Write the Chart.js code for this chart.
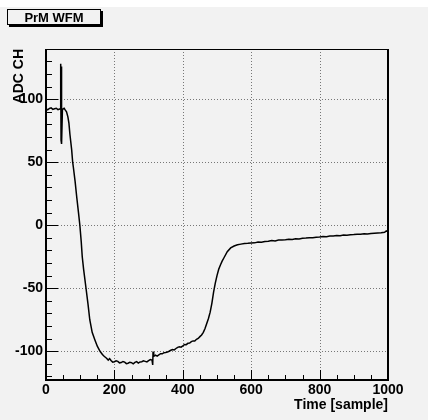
<!DOCTYPE html>
<html>
<head>
<meta charset="utf-8">
<title>PrM WFM</title>
<script src="https://cdn.jsdelivr.net/npm/chart.js@4.4.1/dist/chart.umd.min.js"></script>
<style>
  html, body { margin: 0; padding: 0; background: #ffffff; }
  #wrap { width: 428px; height: 420px; }
</style>
</head>
<body>
<div id="wrap"><canvas id="wfm" width="428" height="420"></canvas></div>
<script>
// waveform samples (sample index -> ADC counts)
const sampleIdx = [
  0, 5, 10, 15, 20, 25, 30, 35, 40, 42, 43, 44, 45, 46, 48, 50, 53, 56, 60, 64, 67, 70, 75, 78,
  80, 85, 90, 95, 99, 103, 106, 110, 117, 123, 128, 135, 143, 150, 158, 165, 170, 177, 182, 186, 190, 195,
  200, 205, 210, 215, 220, 225, 230, 235, 240, 245, 250, 255, 260, 265, 270, 275, 280, 285, 290, 295,
  300, 305, 310, 312, 313, 315, 320, 325, 330, 335, 340, 345, 350, 355, 360, 365,
  370, 375, 380, 385, 390, 395, 400, 405, 410, 415, 420, 425, 430, 435, 440, 445, 450, 455, 460, 465, 470, 475, 480, 485, 490, 495, 500, 505, 510,
  515, 520, 530, 540, 550, 560, 570, 580, 590, 600, 610, 620, 630, 640, 650, 660, 670, 680, 690, 700,
  710, 720, 730, 740, 750, 760, 770, 780, 790, 800, 810, 820, 830, 840, 850, 860, 870, 880, 890, 900,
  910, 920, 930, 940, 950, 960, 970, 980, 990, 995, 1000
];
const adcValues = [
  92.5, 91.6, 92.6, 93.1, 91.9, 92.4, 92.8, 91.7, 92.2, 92.5, 128, 67.5, 126, 64.5, 91.5, 92.4, 92.8, 91.5, 90, 86, 81, 72, 60, 50,
  46, 35, 22, 10, 0, -13, -25, -35, -50, -63, -75, -85, -91, -96, -100, -102.5, -104, -105.5, -107, -105.8, -107.3, -108.6,
  -108.3, -107.6, -108, -109.2, -109, -108.1, -108.6, -109.8, -109.5, -108.7, -109, -110, -108.8, -108.2, -109.4, -108.5, -108.3, -107.6, -108, -108.4,
  -107.4, -106.6, -107, -110.9, -100.3, -104, -103, -103.8, -102.8, -101.9, -102, -101.1, -101, -100.6, -100, -99.2,
  -98.6, -98.9, -97.8, -96.9, -96.5, -96.8, -95.8, -94.6, -94.8, -93.7, -93.5, -92.4, -91.8, -91.9, -90.5, -89.8, -88.4, -87.1, -85, -82, -78, -74, -69, -62, -53, -46, -40, -35, -31.5,
  -28.5, -26, -21, -18, -16.5, -15.5, -15, -14.6, -14.4, -14.1, -14, -13.4, -13.6, -13, -12.8, -12.2, -12.5, -11.8, -11.7, -11.5,
  -11.2, -11.4, -10.8, -10.9, -10.3, -10.2, -9.9, -10, -9.5, -9.4, -9, -9.1, -8.6, -8.5, -8.2, -8.3, -7.8, -7.9, -7.6, -7.4,
  -7.1, -7.2, -6.8, -6.9, -6.5, -6.3, -6.1, -6, -5.6, -4.5, -5.2
];

// axis ranges and divisions
const xRange = [0, 1000];
const yRange = [-122.8, 139.8];
const xMajorStep = 200;
const xMinorStep = 50;
const yMajorStep = 50;
const yMinorStep = 10;

const histTitle = "PrM WFM";
const xTitle = "Time [sample]";
const yTitle = "ADC CH";

const FONT = "'Liberation Sans', Arial, Helvetica, sans-serif";
const BG = "#f2f2f2";

const points = sampleIdx.map((x, i) => ({ x: x, y: adcValues[i] }));

// ROOT style frame: background, dotted grid, inner ticks, frame and title box
const rootFrame = {
  id: "rootFrame",
  beforeDraw(chart) {
    const ctx = chart.ctx;
    ctx.save();
    ctx.fillStyle = "#ffffff";
    ctx.fillRect(0, 0, chart.width, chart.height);
    ctx.fillStyle = BG;
    ctx.fillRect(0, 7, chart.width, chart.height - 7);
    ctx.restore();
  },
  beforeDatasetsDraw(chart) {
    const ctx = chart.ctx;
    const a = chart.chartArea;
    const xs = chart.scales.x;
    const ys = chart.scales.y;
    ctx.save();

    // dotted grid at major divisions
    ctx.strokeStyle = "#777777";
    ctx.lineWidth = 1;
    ctx.setLineDash([1, 2]);
    for (let v = xRange[0] + xMajorStep; v < xRange[1]; v += xMajorStep) {
      const px = Math.round(xs.getPixelForValue(v)) + 0.5;
      ctx.beginPath();
      ctx.moveTo(px, a.top);
      ctx.lineTo(px, a.bottom);
      ctx.stroke();
    }
    for (let v = -100; v <= 100; v += yMajorStep) {
      const py = Math.round(ys.getPixelForValue(v)) + 0.5;
      ctx.beginPath();
      ctx.moveTo(a.left, py);
      ctx.lineTo(a.right, py);
      ctx.stroke();
    }
    ctx.setLineDash([]);

    // tick marks pointing into the frame
    ctx.strokeStyle = "#000000";
    ctx.lineWidth = 1;
    for (let v = xRange[0]; v <= xRange[1]; v += xMinorStep) {
      const px = Math.round(xs.getPixelForValue(v)) + 0.5;
      const len = v % xMajorStep === 0 ? 10 : 5;
      ctx.beginPath();
      ctx.moveTo(px, a.bottom);
      ctx.lineTo(px, a.bottom - len);
      ctx.stroke();
    }
    for (let v = -120; v <= 130; v += yMinorStep) {
      const py = Math.round(ys.getPixelForValue(v)) + 0.5;
      const len = v % yMajorStep === 0 ? 12 : 6;
      ctx.beginPath();
      ctx.moveTo(a.left, py);
      ctx.lineTo(a.left + len, py);
      ctx.stroke();
    }
    ctx.restore();
  },
  afterDatasetsDraw(chart) {
    const ctx = chart.ctx;
    const a = chart.chartArea;
    ctx.save();
    ctx.strokeStyle = "#000000";
    // top edge thin, the other three heavier
    ctx.lineWidth = 1;
    ctx.beginPath();
    ctx.moveTo(a.left, a.top + 0.5);
    ctx.lineTo(a.right, a.top + 0.5);
    ctx.stroke();
    ctx.lineWidth = 2;
    ctx.beginPath();
    ctx.moveTo(a.left, a.top);
    ctx.lineTo(a.left, a.bottom);
    ctx.lineTo(a.right, a.bottom);
    ctx.lineTo(a.right, a.top);
    ctx.stroke();

    // histogram title box with drop shadow
    const bx = 7, by = 9, bw = 94, bh = 16;
    ctx.fillStyle = "#000000";
    ctx.fillRect(bx + 2, by + 2, bw, bh);
    ctx.fillStyle = BG;
    ctx.fillRect(bx, by, bw, bh);
    ctx.lineWidth = 1;
    ctx.strokeRect(bx + 0.5, by + 0.5, bw - 1, bh - 1);
    ctx.fillStyle = "#000000";
    ctx.font = "bold 13px " + FONT;
    ctx.textAlign = "center";
    ctx.textBaseline = "middle";
    ctx.fillText(histTitle, bx + bw / 2, by + bh / 2 + 1);
    ctx.restore();
  }
};

new Chart(document.getElementById("wfm"), {
  type: "line",
  data: {
    datasets: [{
      label: histTitle,
      data: points,
      borderColor: "#000000",
      borderWidth: 1.5,
      pointRadius: 0,
      tension: 0,
      fill: false
    }]
  },
  options: {
    responsive: false,
    animation: false,
    devicePixelRatio: 1,
    clip: 0,
    layout: { padding: { top: 49, right: 40, left: 0, bottom: 0 } },
    plugins: {
      legend: { display: false },
      tooltip: { enabled: false }
    },
    scales: {
      x: {
        type: "linear",
        min: xRange[0],
        max: xRange[1],
        grid: { display: false, drawTicks: false },
        border: { display: false },
        ticks: {
          stepSize: xMajorStep,
          includeBounds: false,
          maxRotation: 0,
          padding: 2,
          color: "#000000",
          font: { family: FONT, size: 14, weight: "bold" },
          callback: (value) => String(value)
        },
        title: {
          display: true,
          text: xTitle,
          align: "end",
          color: "#000000",
          font: { family: FONT, size: 14, weight: "bold" },
          padding: { top: 0, bottom: 6 }
        },
        afterFit(scale) { scale.height = 40; }
      },
      y: {
        type: "linear",
        min: yRange[0],
        max: yRange[1],
        grid: { display: false, drawTicks: false },
        border: { display: false },
        ticks: {
          stepSize: yMajorStep,
          includeBounds: false,
          padding: 3,
          color: "#000000",
          font: { family: FONT, size: 14, weight: "bold" },
          callback: (value) => String(value)
        },
        title: {
          display: true,
          text: yTitle,
          align: "end",
          color: "#000000",
          font: { family: FONT, size: 14, weight: "bold" },
          padding: { top: 11, bottom: 0 }
        },
        afterFit(scale) { scale.width = 46; }
      }
    }
  },
  plugins: [rootFrame]
});
</script>
</body>
</html>
